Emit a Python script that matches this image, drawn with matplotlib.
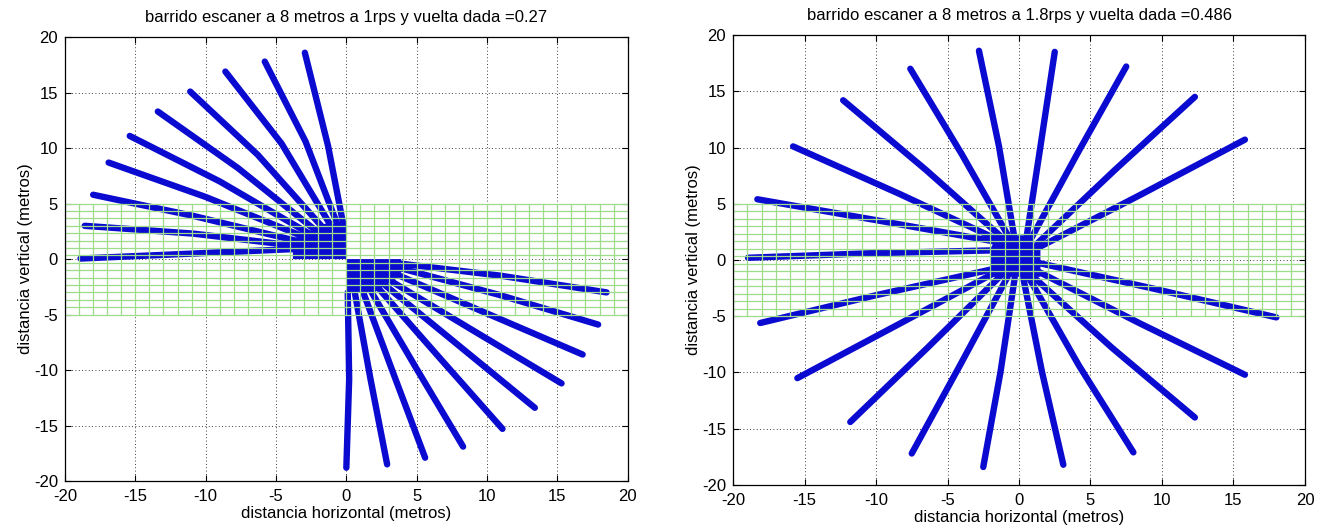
import numpy as np
import matplotlib
matplotlib.use('Agg')
import matplotlib.pyplot as plt

plt.rcParams['font.family'] = ['Liberation Sans', 'DejaVu Sans']
plt.rcParams['axes.unicode_minus'] = False

titles = ["barrido escaner a 8 metros a 1rps y vuelta dada =0.27",
          "barrido escaner a 8 metros a 1.8rps y vuelta dada =0.486"]
xlabel = "distancia horizontal (metros)"
ylabel = "distancia vertical (metros)"
ticks = [-20, -15, -10, -5, 0, 5, 10, 15, 20]

# green mesh over the band -5..5
mesh_x = list(range(-20, 21))
mesh_y = [-5 + k * 10 / 15 for k in range(16)]

# left chart (1 rps): start, middle and end of each sweep
left_x0 = [-0.2, -0.6, -1.0, -1.5, -2.0, -2.5, -3.0, -3.4, -3.6, -3.8,
           3.8, 3.8, 3.6, 3.2, 2.8, 2.4, 1.8, 1.2, 0.6, 0.1]
left_y0 = [3.0, 3.0, 2.8, 2.6, 2.4, 2.2, 2.0, 1.6, 1.2, 0.9,
           -0.4, -0.8, -1.4, -2.0, -2.4, -2.8, -3.0, -3.0, -3.0, -3.0]
left_xm = [-1.3, -2.9, -4.6, -6.3, -7.7, -9.0, -10.0, -10.9, -10.9, -10.9,
           11.0, 10.8, 10.0, 9.1, 8.0, 6.7, 5.0, 3.4, 1.7, 0.2]
left_ym = [10.2, 10.6, 10.4, 9.4, 8.2, 7.0, 5.6, 3.9, 2.3, 0.5,
           -1.5, -3.2, -4.9, -6.5, -7.8, -9.0, -9.9, -10.5, -10.7, -10.8]
left_x1 = [-2.95, -5.8, -8.6, -11.1, -13.4, -15.4, -16.9, -18.0, -18.6, -18.9,
           18.5, 17.9, 16.8, 15.3, 13.4, 11.1, 8.3, 5.6, 2.9, 0.0]
left_y1 = [18.6, 17.8, 16.9, 15.1, 13.3, 11.1, 8.7, 5.8, 3.0, 0.05,
           -3.0, -5.9, -8.6, -11.2, -13.4, -15.3, -16.9, -17.9, -18.5, -18.8]
left_core_x = [[-3.8, 0.0, 0.0, -1.5, -3.8], [0.0, 3.9, 3.9, 2.0, 0.0]]
left_core_y = [[0.0, 0.0, 3.2, 3.2, 1.8], [0.0, 0.0, -1.5, -3.0, -3.0]]

# right chart (1.8 rps)
right_x0 = [-0.3, 0.5, 0.8, 1.3, 1.5, 1.5, 1.3, 1.0, 0.7, 0.3,
            -0.3, -0.8, -1.2, -1.5, -1.8, -2.0, -1.5, -1.3, -1.0, -0.6]
right_y0 = [1.8, 1.8, 1.8, 1.5, 1.2, -0.3, -1.0, -1.5, -1.6, -1.6,
            -1.6, -1.5, -1.3, -1.0, -0.8, 0.85, 1.6, 1.7, 1.8, 1.8]
right_xm = [-1.4, 1.5, 4.1, 6.7, 8.5, 9.6, 8.4, 6.5, 4.2, 1.6,
            -1.3, -4.1, -6.4, -8.4, -9.9, -10.4, -9.8, -8.4, -6.5, -4.0]
right_ym = [10.1, 10.1, 9.5, 8.0, 5.8, -2.6, -5.6, -7.8, -9.4, -9.9,
            -10.0, -9.3, -7.8, -5.7, -3.1, 0.6, 3.5, 5.9, 8.0, 9.4]
right_x1 = [-2.8, 2.5, 7.5, 12.3, 15.8, 18.0, 15.8, 12.3, 8.0, 3.1,
            -2.5, -7.5, -11.8, -15.5, -18.1, -18.95, -18.3, -15.8, -12.3, -7.6]
right_y1 = [18.6, 18.5, 17.2, 14.5, 10.7, -5.1, -10.2, -14.0, -17.1, -18.2,
            -18.4, -17.2, -14.4, -10.5, -5.6, 0.2, 5.4, 10.1, 14.2, 17.0]
right_core_x = [[-2.0, 1.5, 1.5, 0.5, -1.5, -2.0]]
right_core_y = [[-1.5, -1.5, 1.0, 2.2, 2.2, 1.0]]

BLUE = '#0a0ad0'
GREEN = '#9edc8c'

fig = plt.figure(figsize=(13.27, 5.29), dpi=100)
ax_l = fig.add_axes([0.049, 0.0907, 0.424, 0.839])
ax_r = fig.add_axes([0.5524, 0.0832, 0.431, 0.8506])


def draw(ax, x0, y0, xm, ym, x1, y1, core_x, core_y, title):
    ax.set_xlim(-20, 20)
    ax.set_ylim(-20, 20)
    ax.set_xticks(ticks)
    ax.set_yticks(ticks)
    ax.grid(True, color='k', ls=(0, (1, 3)), lw=0.6)
    ax.set_axisbelow(True)
    for i in range(len(x0)):
        ax.plot([x0[i], xm[i], x1[i]], [y0[i], ym[i], y1[i]], color=BLUE,
                lw=4.6, solid_capstyle='round', solid_joinstyle='round', zorder=2)
    for cx, cy in zip(core_x, core_y):
        ax.fill(cx, cy, color=BLUE, lw=0, zorder=2)
    for gx in mesh_x:
        ax.plot([gx, gx], [-5, 5], color=GREEN, lw=0.9, zorder=3)
    for gy in mesh_y:
        ax.plot([-20, 20], [gy, gy], color=GREEN, lw=0.9, zorder=3)
    ax.tick_params(direction='in', top=True, right=True, length=4,
                   labelsize=12)
    ax.tick_params(axis='x', pad=6)
    ax.tick_params(axis='y', pad=5)
    for s in ax.spines.values():
        s.set_linewidth(0.9)
        s.set_zorder(5)
    ax.set_title(title, fontsize=12, pad=11)
    ax.set_xlabel(xlabel, fontsize=12, labelpad=1)
    ax.set_ylabel(ylabel, fontsize=12, labelpad=1)


draw(ax_l, left_x0, left_y0, left_xm, left_ym, left_x1, left_y1,
     left_core_x, left_core_y, titles[0])
draw(ax_r, right_x0, right_y0, right_xm, right_ym, right_x1, right_y1,
     right_core_x, right_core_y, titles[1])

fig.savefig("out.png", dpi=100)
